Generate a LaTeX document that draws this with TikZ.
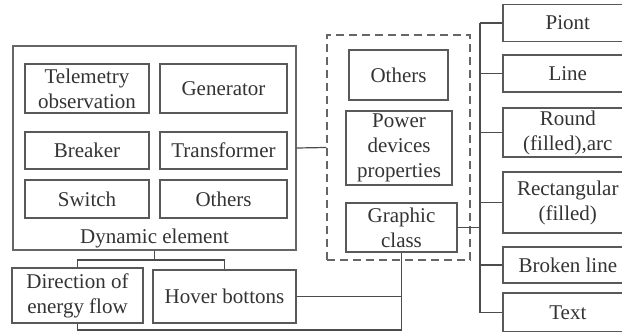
\documentclass[tikz,border=0pt]{standalone}
\usepackage{fontspec}
\setmainfont{Liberation Serif}
\usepackage{xcolor}
\usetikzlibrary{shapes,arrows,positioning}

\begin{document}
\begin{tikzpicture}[x=0.5pt, y=-0.5pt, font=\fontsize{10.5}{12.5}\selectfont]
    % Define styles
    \tikzstyle{item} = [rectangle, inner sep=0pt, text centered, align=center, draw=black!65, line width=0.8pt, text=black!80]
    \tikzstyle{group} = [rectangle, inner sep=0pt, draw=black!60, line width=0.7pt]
    \tikzstyle{attrgroup} = [rectangle, inner sep=0pt, draw=black!60, line width=0.7pt, dash pattern=on 4pt off 2.5pt]
    \tikzstyle{link} = [draw=black!70, line width=0.6pt]
    \tikzstyle{shapeitem} = [item, minimum width=65pt, anchor=west]

    \useasboundingbox (0,0) rectangle (622,332);

    % Nodes
    \node[group, minimum width=141.5pt, minimum height=102pt] (dynamic) at (154.5,148) {};
    \node[item, minimum width=62pt, minimum height=24.5pt] (telemetry) at (87,88.5) {Telemetry\\observation};
    \node[item, minimum width=63.5pt, minimum height=24.5pt] (generator) at (223.5,88.5) {Generator};
    \node[item, minimum width=62pt, minimum height=18.5pt] (breaker) at (87,150.5) {Breaker};
    \node[item, minimum width=63.5pt, minimum height=18.5pt] (transformer) at (223.5,150.5) {Transformer};
    \node[item, minimum width=62pt, minimum height=19pt] (switch) at (87,199) {Switch};
    \node[item, minimum width=63.5pt, minimum height=19pt] (dyn_others) at (223.5,199) {Others};
    \node[text=black!80] (dyn_label) at (154.5,238) {Dynamic element};

    \node[item, minimum width=65.5pt, minimum height=27.5pt] (direction) at (77.5,295.5) {Direction of\\energy flow};
    \node[item, minimum width=71.5pt, minimum height=26.5pt] (hover) at (224.5,296.5) {Hover bottons};

    \node[attrgroup, minimum width=71.5pt, minimum height=112.5pt] (attrs) at (398.5,147.5) {};
    \node[item, minimum width=49.5pt, minimum height=25pt] (attr_others) at (398.5,75) {Others};
    \node[item, minimum width=53pt, minimum height=37pt] (power_props) at (399,148) {Power\\devices\\properties};
    \node[item, minimum width=55.5pt, minimum height=24.5pt] (graphic) at (401.5,227.5) {Graphic\\class};

    \node[shapeitem, minimum height=18.5pt] (point) at (502,23) {Piont};
    \node[shapeitem, minimum height=18.5pt] (line) at (502,73.5) {Line};
    \node[shapeitem, minimum height=24.5pt] (round) at (502,132.5) {Round\\(filled),arc};
    \node[shapeitem, minimum height=30.5pt] (rectangular) at (502,202.5) {Rectangular\\(filled)};
    \node[shapeitem, minimum height=18pt] (broken_line) at (502,265) {Broken line};
    \node[shapeitem, minimum height=19.5pt] (text_item) at (502,312.5) {Text};

    \coordinate (split) at (154.5,260);
    \coordinate (trunk) at (480,227.5);
    \coordinate (bottom_join) at (401.5,330);

    % Connections
    \draw[link] (dynamic.east) -- (attrs.west);
    \draw[link] (dynamic.south) -- (split);
    \draw[link] (direction.north) |- (split) -| (hover.north);
    \draw[link] (hover.east) -| (graphic.south);
    \draw[link] (direction.south) |- (bottom_join) -- (graphic.south);
    \draw[link] (graphic.east) -- (trunk);
    \draw[link] (trunk |- point.west) -- (trunk |- text_item.west);
    \foreach \b in {point, line, round, rectangular, broken_line, text_item}
        \draw[link] (trunk |- \b.west) -- (\b.west);
\end{tikzpicture}
\end{document}
